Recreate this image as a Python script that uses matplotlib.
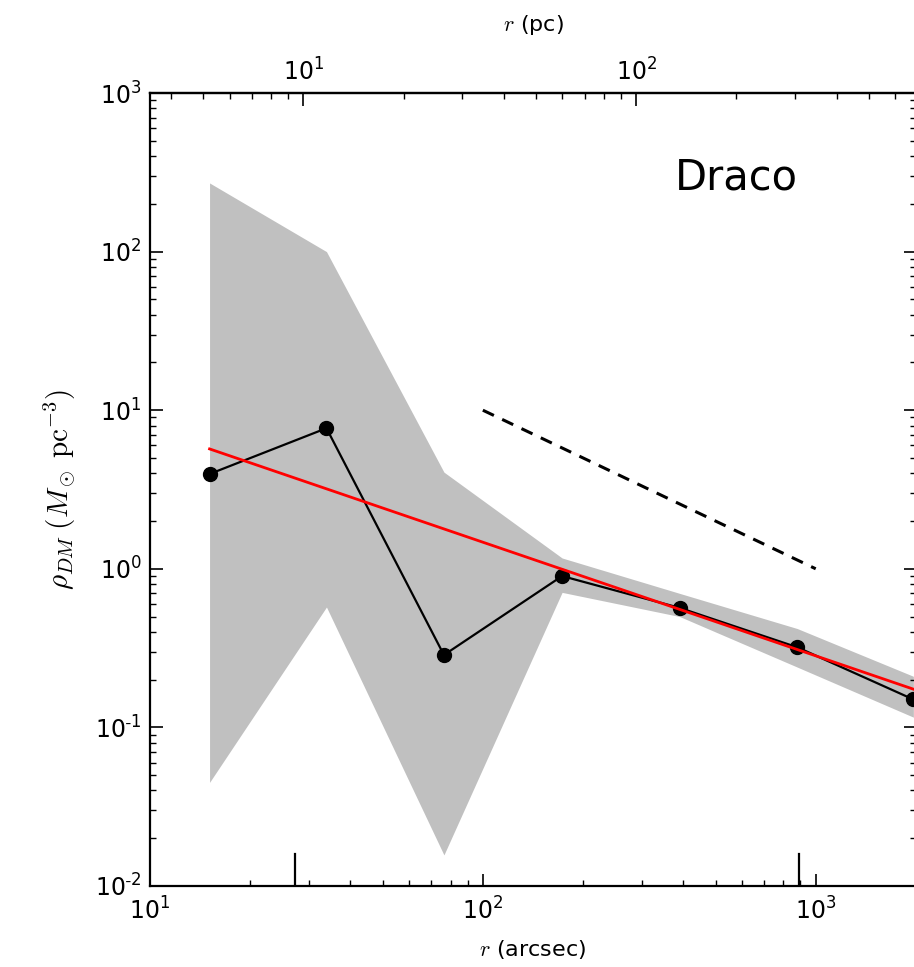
import matplotlib
matplotlib.use("Agg")
import matplotlib.pyplot as plt
import numpy as np
from matplotlib.ticker import LogLocator, NullFormatter, FixedLocator, FuncFormatter

plt.rcParams['mathtext.fontset'] = 'cm'
plt.rcParams['font.family'] = 'DejaVu Sans'

# binned dark matter density (arcsec, Msun/pc^3)
r_arcsec = [15.1, 33.9, 76.4, 173, 390, 880, 1965]
rho = [3.96, 7.7, 0.286, 0.90, 0.567, 0.32, 0.150]
rho_hi = [271, 100, 4.07, 1.17, 0.70, 0.42, 0.21]
rho_lo = [0.045, 0.574, 0.0157, 0.71, 0.50, 0.24, 0.116]

# power law fit (red) and slope -1 guide (dashed)
fit_r = [15.1, 2000]
fit_rho = [5.7, 0.172]
guide_r = [100, 1000]
guide_rho = [10, 1]

# long marker ticks on the bottom axis
mark_r = [27.2, 889]

pc_ticks = [10, 100]
pc_per_arcsec = 0.346


def pow10(v, pos):
    e = int(round(np.log10(v)))
    s = str(e) if e >= 0 else r'\text{-}' + str(-e)
    return r'$\mathdefault{10^{%s}}$' % s


fig = plt.figure(figsize=(9.14, 9.67), dpi=100)
ax = fig.add_axes([0.1641, 0.0838, 0.838, 0.82])

ax.fill_between(r_arcsec, rho_lo, rho_hi, color='#c0c0c0', lw=0)
ax.plot(r_arcsec, rho, color='k', lw=1.6, marker='o', ms=10, zorder=3)
ax.plot(fit_r, fit_rho, color='red', lw=2.0, zorder=4)
ax.plot(guide_r, guide_rho, color='k', lw=2.2, ls=(0, (4, 3)))
for xm in mark_r:
    ax.axvline(xm, ymin=0, ymax=0.04, color='k', lw=1.6)

ax.set_xscale('log')
ax.set_yscale('log')
ax.set_xlim(10, 2000)
ax.set_ylim(1e-2, 1e3)
ax.xaxis.set_major_formatter(FuncFormatter(pow10))
ax.yaxis.set_major_formatter(FuncFormatter(pow10))

for s in ax.spines.values():
    s.set_linewidth(1.6)
ax.tick_params(which='both', direction='in', top=False, right=True, labelsize=17)
ax.tick_params(axis='x', which='major', length=9, width=1.2, pad=8)
ax.tick_params(axis='y', which='major', length=9, width=1.2, pad=6)
ax.tick_params(which='minor', length=4, width=1)
ax.yaxis.set_minor_locator(LogLocator(base=10, subs=np.arange(2, 10)))
ax.yaxis.set_minor_formatter(NullFormatter())

ax.set_xlabel(r'$r$ (arcsec)', fontsize=16, labelpad=10)
ax.set_ylabel(r'$\rho_{DM}\;(M_\odot\;{\rm pc}^{-3})$', fontsize=21, labelpad=12)

sec = ax.secondary_xaxis('top', functions=(lambda x: x * pc_per_arcsec,
                                            lambda x: x / pc_per_arcsec))
sec.xaxis.set_major_locator(FixedLocator(pc_ticks))
sec.xaxis.set_major_formatter(FuncFormatter(pow10))
sec.xaxis.set_minor_locator(LogLocator(base=10, subs=np.arange(2, 10)))
sec.xaxis.set_minor_formatter(NullFormatter())
sec.tick_params(which='both', direction='in', labelsize=17)
sec.tick_params(which='major', length=9, width=1.2, pad=5)
sec.tick_params(which='minor', length=4, width=1)
sec.set_xlabel(r'$r$ (pc)', fontsize=16, labelpad=20)
sec.spines['top'].set_linewidth(1.6)

ax.text(0.685, 0.893, 'Draco', transform=ax.transAxes, fontsize=30,
        ha='left', va='center')

fig.savefig('out.png', dpi=100)
